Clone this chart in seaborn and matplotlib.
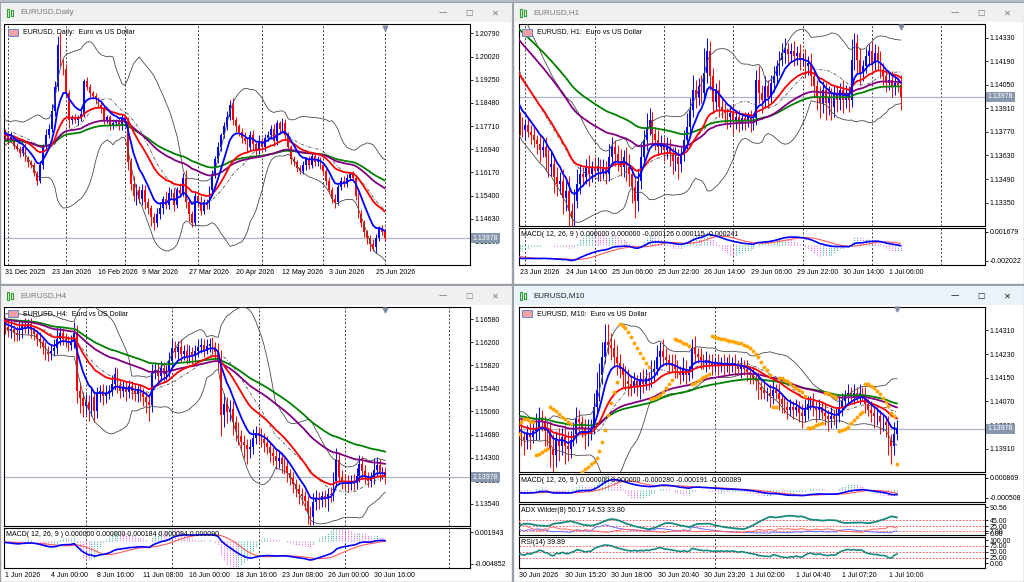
import numpy as np
import pandas as pd
import matplotlib
matplotlib.use("Agg")
import matplotlib.pyplot as plt
from matplotlib.patches import Rectangle
from matplotlib.transforms import blended_transform_factory
import seaborn as sns

# ---------------- data (prices in points, 1e-5 above 1.10000) ----------------
last_price = 1.13978

# Daily: 31 Dec 2025 .. 1 Jul 2026
daily_prev = [7000, 7200, 6900, 7400, 7600, 7300, 7100, 6800, 6600, 6500,
              6700, 6900, 7200, 7500, 7800, 7900, 7700, 7600, 7400, 7300,
              7500, 7600, 7400, 7700, 7600, 7500, 7300, 7400, 7600, 7500]
daily_close = [7400, 7250, 7350, 7050, 6950, 6800, 7000, 6650, 6500, 6400,
               6150, 5900, 6400, 7000, 7400, 7600, 8200, 9000, 10400, 9800,
               9600, 8800, 7900, 8000, 7900, 8000, 8100, 9200, 9000, 8800,
               8700, 8600, 8400, 8300, 7900, 8000, 7700, 7800, 7900, 7700,
               8000, 7800, 6500, 5800, 5400, 5600, 5300, 5600, 5200, 5000,
               4700, 4500, 4800, 5000, 5300, 5100, 5500, 5500, 5100, 5600,
               5500, 6000, 5200, 4800, 4500, 5400, 5200, 4900, 5200, 5100,
               5600, 6100, 6600, 7000, 7400, 7700, 8000, 8400, 7900, 7700,
               7500, 7300, 7200, 7000, 7400, 7100, 6900, 7200, 7000, 7300,
               7400, 7600, 7200, 7800, 7600, 7800, 7400, 7000, 6600, 6500,
               6300, 6200, 6400, 6600, 6400, 6700, 6500, 6600, 6400, 6200,
               5900, 5600, 5300, 5200, 5700, 5900, 5800, 6000, 6100, 6000,
               5400, 4800, 4500, 4200, 4000, 3800, 3700, 4000, 4300, 4200,
               3978]
daily_up = [120, 80, 150, 60, 90, 110, 70, 130, 60, 90,
            100, 80, 150, 120, 200, 180, 250, 220, 300, 400,
            150, 180, 120, 90, 100, 80, 130, 60, 150, 90,
            70, 110, 80, 120, 100, 70, 90, 140, 60, 80,
            110, 90, 200, 150, 250, 180, 120, 200, 160, 130,
            90, 110, 200, 180, 90, 250, 180, 120, 160, 100,
            210, 140, 250, 130, 90, 150, 120, 180, 100, 90,
            110, 150, 120, 180, 90, 130, 200, 160, 250, 120,
            90, 150, 200, 110, 160, 180, 90, 200, 120, 160,
            140, 150, 180, 120, 90, 170, 130, 100, 90, 120,
            80, 110, 150, 90, 120, 100, 80, 130, 90, 100,
            80, 110, 90, 140, 100, 120, 160, 100, 90, 130,
            80, 90, 110, 100, 60, 80, 150, 120, 100, 110,
            90]
daily_dn = [90, 130, 70, 110, 80, 120, 100, 90, 140, 80,
            110, 150, 90, 120, 80, 100, 90, 150, 120, 100,
            200, 160, 250, 120, 90, 150, 110, 100, 80, 130,
            90, 120, 100, 150, 110, 80, 120, 100, 90, 110,
            130, 100, 250, 200, 180, 300, 150, 220, 250, 200,
            300, 250, 150, 180, 200, 160, 130, 150, 200, 120,
            150, 130, 200, 250, 150, 120, 180, 150, 110, 160,
            130, 90, 100, 120, 110, 80, 120, 100, 150, 180,
            120, 150, 100, 160, 120, 180, 140, 110, 150, 120,
            100, 130, 150, 110, 140, 100, 160, 120, 150, 130,
            120, 100, 90, 140, 110, 100, 120, 130, 110, 120,
            150, 130, 160, 200, 120, 100, 130, 110, 90, 120,
            150, 160, 130, 180, 200, 250, 150, 200, 120, 110,
            100]
daily_ticks = [0, 16, 32, 47, 63, 79, 95, 111, 127]
daily_labels = ["31 Dec 2025", "23 Jan 2026", "16 Feb 2026", "9 Mar 2026", "27 Mar 2026",
                "20 Apr 2026", "12 May 2026", "3 Jun 2026", "25 Jun 2026"]
daily_seps = [1, 21, 41, 66, 88, 109, 130]
daily_levels = [1.20790, 1.20020, 1.19250, 1.18480, 1.17710, 1.16940, 1.16170, 1.15400, 1.14630, 1.13860]

# H1: 23 Jun 22:00 .. 1 Jul 10:00
h1_prev = [4600, 4620, 4580, 4610, 4590, 4570, 4600, 4560, 4580, 4550,
           4500, 4460, 4420, 4380, 4340, 4300, 4270, 4240, 4210, 4180,
           4150, 4120, 4090, 4050, 4010, 3980, 3950, 3920, 3880, 3850]
h1_close = [3800, 3780, 3810, 3770, 3750, 3720, 3700, 3660, 3680, 3620,
            3560, 3580, 3500, 3460, 3480, 3380, 3420, 3300, 3260, 3360,
            3460, 3520, 3500, 3560, 3520, 3560, 3540, 3570, 3530, 3550,
            3520, 3620, 3680, 3640, 3600, 3560, 3620, 3560, 3520, 3440,
            3360, 3480, 3620, 3720, 3800, 3840, 3760, 3720, 3680, 3700,
            3660, 3680, 3640, 3600, 3620, 3580, 3640, 3720, 3800, 3900,
            4020, 3980, 4040, 4000, 4120, 4250, 4100, 3950, 4020, 3920,
            3900, 3880, 3860, 3880, 3840, 3860, 3830, 3850, 3840, 3860,
            3830, 3850, 4080, 4000, 3960, 4040, 3980, 4060, 4100, 4160,
            4200, 4240, 4260, 4230, 4250, 4220, 4240, 4200, 4210, 4160,
            4180, 4100, 4040, 3980, 3940, 4020, 3940, 3980, 3920, 4000,
            3960, 4020, 3960, 4000, 3960, 4200, 4300, 4200, 4120, 4160,
            4220, 4250, 4180, 4240, 4200, 4140, 4100, 4060, 4080, 4040,
            4060, 4050, 3978]
h1_up = [40, 60, 30, 50, 40, 60, 30, 50, 40, 60,
         50, 80, 40, 60, 50, 70, 60, 90, 50, 70,
         90, 60, 40, 50, 70, 40, 60, 50, 40, 60,
         50, 80, 60, 40, 50, 70, 40, 60, 80, 50,
         60, 70, 90, 60, 80, 70, 50, 40, 60, 50,
         40, 60, 50, 40, 60, 50, 40, 60, 80, 70,
         90, 60, 50, 70, 150, 80, 60, 50, 40, 60,
         50, 40, 30, 40, 50, 30, 40, 30, 40, 30,
         40, 30, 60, 80, 50, 60, 40, 50, 60, 40,
         50, 60, 70, 40, 50, 60, 40, 50, 30, 50,
         40, 60, 50, 40, 60, 50, 40, 60, 50, 40,
         50, 40, 60, 50, 40, 120, 60, 50, 70, 40,
         50, 40, 60, 50, 40, 50, 40, 30, 40, 50,
         40, 30, 60]
h1_dn = [50, 40, 60, 30, 50, 40, 60, 70, 40, 80,
         60, 50, 90, 70, 60, 100, 80, 90, 60, 50,
         40, 60, 50, 40, 70, 50, 40, 60, 50, 40,
         60, 40, 50, 70, 60, 50, 60, 80, 70, 90,
         100, 60, 50, 40, 60, 50, 70, 60, 50, 40,
         60, 50, 70, 80, 60, 90, 50, 40, 50, 60,
         40, 70, 50, 60, 40, 60, 80, 70, 50, 60,
         50, 60, 70, 60, 80, 50, 60, 50, 60, 40,
         60, 50, 40, 60, 80, 50, 70, 40, 50, 40,
         50, 40, 60, 50, 40, 60, 50, 60, 40, 70,
         50, 60, 70, 80, 90, 60, 100, 70, 80, 60,
         70, 60, 80, 50, 70, 40, 60, 80, 70, 50,
         40, 60, 50, 40, 60, 50, 60, 50, 40, 60,
         50, 40, 80]
h1_ticks = [0, 16, 32, 48, 64, 80, 96, 112, 128]
h1_labels = ["23 Jun 2026", "24 Jun 14:00", "25 Jun 06:00", "25 Jun 22:00", "26 Jun 14:00",
             "29 Jun 06:00", "29 Jun 22:00", "30 Jun 14:00", "1 Jul 06:00"]
h1_seps = [2, 26, 50, 74, 98, 122, 146]
h1_levels = [1.14330, 1.14190, 1.14050, 1.13910, 1.13770, 1.13630, 1.13490, 1.13350]

# H4: 1 Jun 00:00 .. 1 Jul 08:00
h4_prev = [6600, 6650, 6700, 6620, 6580, 6640, 6700, 6680, 6600, 6550,
           6600, 6650, 6620, 6580, 6540, 6600, 6660, 6620, 6560, 6500,
           6540, 6600, 6640, 6580, 6520, 6480, 6540, 6600, 6560, 6520]
h4_close = [6500, 6520, 6450, 6380, 6420, 6360, 6320, 6400, 6480, 6440,
            6500, 6400, 6340, 6260, 6200, 6120, 6040, 6000, 6060, 6100,
            6250, 6360, 6260, 6200, 6160, 6220, 6360, 5400, 5280, 5150,
            5220, 5100, 5300, 5060, 5350, 5400, 5320, 5360, 5400, 5520,
            5680, 5500, 5400, 5460, 5380, 5480, 5400, 5350, 5420, 5360,
            5300, 5220, 5160, 5700, 5750, 5650, 5780, 5680, 5720, 5900,
            6100, 6040, 6120, 6000, 6060, 5960, 6040, 5980, 6060, 6120,
            6160, 6080, 6140, 6180, 6120, 6040, 5880, 5000, 5180, 5050,
            5100, 4880, 4760, 4660, 4560, 4500, 4440, 4480, 4620, 4700,
            4660, 4600, 4540, 4480, 4380, 4320, 4240, 4300, 4200, 4160,
            4040, 3960, 3860, 3780, 3700, 3660, 3580, 3400, 3320, 3560,
            3640, 3600, 3660, 3620, 3700, 3680, 3920, 4260, 3980, 3920,
            3900, 3860, 3920, 3880, 4000, 4200, 4080, 3980, 3920, 3960,
            4100, 4180, 4040, 4060, 3978]
h4_up = [120, 80, 100, 90, 150, 70, 110, 130, 90, 120,
         80, 100, 90, 70, 110, 80, 90, 100, 120, 150,
         200, 100, 80, 90, 110, 100, 180, 120, 150, 100,
         130, 110, 150, 100, 120, 90, 110, 130, 100, 150,
         120, 100, 90, 110, 80, 100, 90, 120, 80, 100,
         90, 80, 100, 150, 130, 110, 120, 90, 100, 140,
         150, 120, 100, 130, 90, 110, 120, 80, 100, 130,
         110, 90, 120, 100, 110, 90, 150, 200, 180, 120,
         150, 130, 100, 120, 90, 110, 100, 130, 150, 120,
         110, 130, 100, 120, 90, 100, 130, 110, 90, 100,
         120, 80, 100, 90, 80, 100, 90, 80, 100, 150,
         120, 100, 90, 110, 100, 120, 150, 200, 130, 110,
         100, 120, 90, 110, 130, 150, 120, 100, 90, 110,
         200, 130, 100, 90, 80]
h4_dn = [100, 150, 120, 90, 110, 130, 100, 80, 120, 90,
         110, 130, 100, 120, 90, 110, 130, 100, 90, 80,
         100, 90, 110, 80, 100, 90, 110, 200, 250, 180,
         150, 200, 120, 180, 110, 130, 150, 120, 100, 90,
         110, 130, 120, 100, 150, 90, 130, 110, 140, 120,
         150, 180, 250, 110, 100, 130, 90, 120, 100, 90,
         110, 100, 130, 120, 90, 110, 100, 130, 90, 100,
         90, 120, 80, 100, 110, 130, 120, 350, 200, 180,
         150, 200, 180, 160, 150, 200, 250, 150, 120, 100,
         110, 130, 150, 120, 160, 140, 120, 110, 150, 130,
         140, 120, 150, 130, 160, 140, 150, 200, 180, 130,
         120, 150, 110, 130, 200, 120, 100, 90, 120, 130,
         110, 130, 100, 120, 90, 110, 130, 120, 110, 100,
         90, 110, 120, 100, 120]
h4_ticks = [2, 18, 34, 50, 66, 82, 98, 114, 130]
h4_labels = ["1 Jun 2026", "4 Jun 00:00", "8 Jun 16:00", "11 Jun 08:00", "16 Jun 00:00",
             "18 Jun 16:00", "23 Jun 08:00", "26 Jun 00:00", "30 Jun 16:00"]
h4_seps = [30, 60, 90, 120, 156]
h4_levels = [1.16580, 1.16200, 1.15820, 1.15440, 1.15060, 1.14680, 1.14300, 1.13920, 1.13540]

# M10: 30 Jun 12:40 .. 1 Jul 10:30
m10_prev = [4050, 4060, 4040, 4030, 4050, 4070, 4060, 4040, 4020, 4030,
            4010, 4000, 4020, 4040, 4030, 4010, 3990, 3980, 4000, 4010,
            3990, 3970, 3960, 3980, 4000, 3990, 3970, 3960, 3980, 3970]
m10_close = [3970, 3950, 3940, 3960, 3950, 3970, 3980, 4010, 4000, 3970,
             3960, 3910, 3890, 3940, 3920, 3950, 3920, 3910, 3940, 3960,
             4010, 4000, 3980, 3960, 3970, 3980, 4050, 4110, 4160, 4220,
             4270, 4260, 4250, 4220, 4200, 4180, 4160, 4140, 4130, 4120,
             4140, 4120, 4140, 4130, 4150, 4140, 4170, 4180, 4220, 4240,
             4220, 4210, 4200, 4190, 4180, 4170, 4160, 4180, 4160, 4170,
             4250, 4230, 4220, 4210, 4200, 4210, 4200, 4190, 4200, 4190,
             4200, 4190, 4200, 4190, 4200, 4190, 4180, 4190, 4180, 4170,
             4160, 4150, 4140, 4120, 4110, 4100, 4100, 4090, 4110, 4100,
             4080, 4060, 4050, 4040, 4050, 4040, 4050, 4030, 4020, 4040,
             4060, 4070, 4050, 4040, 4050, 4030, 4020, 4010, 4020, 4010,
             4020, 4050, 4070, 4090, 4100, 4090, 4100, 4090, 4100, 4090,
             4060, 4040, 4030, 4020, 4020, 4000, 4000, 3990, 3940, 3920,
             3960, 3978]
m10_up = [30, 40, 20, 30, 40, 30, 50, 40, 30, 20,
          30, 40, 50, 30, 40, 30, 40, 50, 30, 40,
          40, 30, 20, 30, 40, 30, 50, 60, 40, 50,
          60, 60, 40, 30, 40, 30, 20, 30, 40, 30,
          30, 20, 30, 40, 30, 20, 40, 30, 40, 30,
          40, 30, 20, 30, 40, 30, 20, 40, 30, 20,
          30, 40, 20, 30, 20, 30, 20, 30, 20, 30,
          20, 30, 20, 30, 20, 30, 20, 30, 20, 30,
          20, 30, 20, 30, 20, 30, 20, 30, 40, 20,
          30, 20, 30, 20, 30, 20, 30, 20, 30, 40,
          30, 20, 30, 20, 30, 20, 30, 20, 30, 20,
          30, 40, 30, 20, 30, 20, 30, 20, 30, 20,
          30, 20, 30, 20, 30, 20, 30, 20, 30, 20,
          40, 30]
m10_dn = [40, 30, 50, 30, 40, 20, 30, 40, 30, 50,
          40, 60, 80, 40, 50, 30, 60, 40, 30, 20,
          30, 40, 30, 50, 40, 30, 20, 30, 40, 30,
          20, 30, 40, 30, 40, 30, 40, 30, 40, 30,
          20, 30, 40, 30, 20, 30, 20, 30, 20, 30,
          30, 20, 30, 20, 30, 20, 30, 20, 30, 20,
          20, 30, 20, 30, 20, 30, 20, 30, 20, 30,
          20, 30, 20, 30, 20, 30, 20, 30, 20, 30,
          30, 20, 30, 40, 30, 20, 30, 40, 30, 20,
          40, 30, 20, 30, 20, 30, 20, 30, 40, 20,
          30, 20, 30, 40, 30, 20, 30, 40, 30, 20,
          30, 20, 30, 20, 30, 20, 30, 20, 30, 20,
          30, 20, 30, 40, 30, 40, 30, 40, 50, 60,
          30, 20]
m10_ticks = [0, 16, 32, 48, 64, 80, 96, 112, 128]
m10_labels = ["30 Jun 2026", "30 Jun 15:20", "30 Jun 18:00", "30 Jun 20:40", "30 Jun 23:20",
              "1 Jul 02:00", "1 Jul 04:40", "1 Jul 07:20", "1 Jul 10:00"]
m10_seps = [68]
m10_levels = [1.14310, 1.14230, 1.14150, 1.14070, 1.13990, 1.13910]

# ---------------- indicators ----------------
def build(prev, close, up, dn):
    c = np.array(prev + close, dtype=float) / 1e5 + 1.1
    o = np.r_[c[0], c[:-1]]
    npv = len(prev)
    h = np.maximum(o, c)
    l = np.minimum(o, c)
    h[npv:] += np.array(up) / 1e5
    l[npv:] -= np.array(dn) / 1e5
    x = np.arange(-npv, len(close))
    return x, o, h, l, c, npv


def ema(c, n):
    return pd.Series(c).ewm(span=n, adjust=False).mean().values


def bands(c, n=20, k=2):
    s = pd.Series(c)
    mid = s.rolling(n, min_periods=1).mean()
    sd = s.rolling(n, min_periods=1).std(ddof=0)
    return mid.values, (mid + k * sd).values, (mid - k * sd).values


def macd(c):
    m = ema(c, 12) - ema(c, 26)
    sig = pd.Series(m).rolling(9, min_periods=1).mean().values
    return m, sig


def rsi(c, n=14):
    d = np.diff(c, prepend=c[0])
    g = pd.Series(np.clip(d, 0, None)).ewm(alpha=1 / n, adjust=False).mean()
    ls = pd.Series(np.clip(-d, 0, None)).ewm(alpha=1 / n, adjust=False).mean()
    return (100 - 100 / (1 + g / ls.replace(0, np.nan))).fillna(50).values


def adx(h, l, c, n=8):
    pc = np.r_[c[0], c[:-1]]
    tr = np.maximum(h - l, np.maximum(abs(h - pc), abs(l - pc)))
    up = np.r_[0, np.diff(h)]
    dn = np.r_[0, -np.diff(l)]
    pdm = np.where((up > dn) & (up > 0), up, 0.0)
    mdm = np.where((dn > up) & (dn > 0), dn, 0.0)
    sm = lambda a: pd.Series(a).ewm(alpha=1 / n, adjust=False).mean().values
    atr = np.maximum(sm(tr), 1e-9)
    pdi = 100 * sm(pdm) / atr
    mdi = 100 * sm(mdm) / atr
    dx = 100 * abs(pdi - mdi) / np.maximum(pdi + mdi, 1e-9)
    return sm(dx), pdi, mdi


def psar(h, l, step=0.02, mx=0.2):
    out = np.full(len(h), np.nan)
    bull, af, ep, sar = True, step, h[0], l[0]
    for i in range(1, len(h)):
        sar = sar + af * (ep - sar)
        if bull:
            sar = min(sar, l[i - 1], l[max(i - 2, 0)])
            if l[i] < sar:
                bull, sar, ep, af = False, ep, l[i], step
            elif h[i] > ep:
                ep, af = h[i], min(af + step, mx)
        else:
            sar = max(sar, h[i - 1], h[max(i - 2, 0)])
            if h[i] > sar:
                bull, sar, ep, af = True, ep, h[i], step
            elif l[i] < ep:
                ep, af = l[i], min(af + step, mx)
        out[i] = sar
    return out


# ---------------- figure ----------------
sns.set_style("white")
plt.rcParams["font.family"] = ["Liberation Sans", "DejaVu Sans"]

W, H = 1024, 582
fig = plt.figure(figsize=(W / 100, H / 100), dpi=100, facecolor="#b9bec6")
bg = fig.add_axes([0, 0, 1, 1])
bg.set_xlim(0, W)
bg.set_ylim(H, 0)
bg.axis("off")


def pax(x0, y0, x1, y1):
    return fig.add_axes([x0 / W, 1 - y1 / H, (x1 - x0) / W, (y1 - y0) / H])


def ftext(ax, x, y, s, **kw):
    return ax.text(x / W, 1 - y / H, s, transform=fig.transFigure, **kw)


def window(x0, y0, x1, y1, title, active):
    bg.add_patch(Rectangle((x0, y0), x1 - x0, y1 - y0, fc="white", ec="#9aa0a8", lw=1))
    bg.add_patch(Rectangle((x0 + 1, y0 + 1), x1 - x0 - 2, 19,
                           fc="#eaf2fc" if active else "#f0f0f0", lw=0))
    tc = "#202020" if active else "#7a7a7a"
    for dx, hh in ((0, 8), (4, 6)):
        bg.add_patch(Rectangle((x0 + 7 + dx, y0 + 7 + (8 - hh) / 2), 2.4, hh,
                               fc="none", ec="#2ca02c", lw=0.8))
    bg.text(x0 + 20, y0 + 10.5, title, fontsize=5.8, color=tc, va="center")
    for dx, s in ((-69, "—"), (-43, "☐"), (-17, "✕")):
        bg.text(x1 + dx, y0 + 11, s, fontsize=6, color=tc, ha="center", va="center",
                family=["DejaVu Sans"])


def style(ax, xlim, ylim):
    ax.set_xlim(*xlim)
    ax.set_ylim(*ylim)
    ax.set_facecolor("white")
    for sp in ax.spines.values():
        sp.set_color("black")
        sp.set_linewidth(0.8)
    ax.yaxis.tick_right()
    ax.tick_params(axis="both", direction="out", length=2, width=0.6, pad=1.2,
                   labelsize=5, colors="black", labelright=True, labelleft=False)
    ax.set_xticks([])
    ax.set(xlabel="", ylabel="")


def seps_on(ax, seps):
    for s in seps:
        ax.axvline(s, color="#3a3a3a", lw=0.7, ls=(0, (2, 2)), zorder=1)


def x_labels(ax, ticks, labels):
    ax.set_xticks(ticks)
    ax.set_xticklabels(labels)
    for t in ax.get_xticklabels():
        t.set_ha("left")


def price_panel(ax, data, xlim, ylim, levels, seps, info, info_xy, sar=False):
    x, o, h, l, c, npv = data
    xi = x[npv:]
    oo, hh, ll, cc = o[npv:], h[npv:], l[npv:], c[npv:]
    col = np.where(cc >= oo, "#0000ff", "#ff0000")
    seps_on(ax, seps)
    ax.axhline(last_price, color="#aab5c5", lw=0.9, zorder=1)
    min_h = (ylim[1] - ylim[0]) / 260
    ax.vlines(xi, ll, hh, colors=col, lw=0.7, zorder=2)
    ax.bar(xi, np.maximum(abs(cc - oo), min_h), bottom=np.minimum(oo, cc),
           width=0.62, color=col, lw=0, zorder=2)
    mid, up, lo = bands(c)
    for yv in (up, lo):
        sns.lineplot(x=x, y=yv, ax=ax, color="#4a4a4a", linewidth=0.6, errorbar=None, zorder=3)
    sns.lineplot(x=x, y=mid, ax=ax, color="#555555", linewidth=0.6, errorbar=None,
                 linestyle=(0, (4, 2, 1, 2)), zorder=3)
    for n, colr in ((70, "#008000"), (50, "#800080"), (21, "#ff0000"), (8, "#0000ff")):
        sns.lineplot(x=x, y=ema(c, n), ax=ax, color=colr, linewidth=1.3, errorbar=None, zorder=4)
    if sar:
        sns.scatterplot(x=x, y=psar(h, l), ax=ax, color="#ffa500", s=8, linewidth=0, zorder=5)
    style(ax, xlim, ylim)
    ax.set_yticks(levels)
    ax.set_yticklabels([f"{v:.5f}" for v in levels])
    tr = blended_transform_factory(ax.transAxes, ax.transData)
    ax.text(1.006, last_price, f"{last_price:.5f}", transform=tr, fontsize=5, color="white",
            va="center", ha="left", zorder=10, clip_on=False,
            bbox=dict(boxstyle="square,pad=0.2", fc="#8797ad", ec="none"))
    trx = blended_transform_factory(ax.transData, ax.transAxes)
    ax.plot([xi[-1]], [0.985], transform=trx, marker="v", ms=3.5, color="#7f8fa8",
            clip_on=False, zorder=10)
    ix, iy = info_xy
    ax.add_patch(Rectangle(((ix - 15) / W, 1 - (iy + 3.5) / H), 10 / W, 7 / H,
                           transform=fig.transFigure, fc="#f3a0a0", ec="#4a80d0", lw=0.6, zorder=9))
    ftext(ax, ix, iy, info, fontsize=5, color="black", va="center", zorder=9)


def macd_panel(ax, data, xlim, ylim, hi, lo, seps, label, lxy):
    x, o, h, l, c, npv = data
    m, sg = macd(c)
    hist = m - sg
    hcol = np.where(np.diff(hist, prepend=hist[0]) >= 0, "#48b4a2", "#e36ee3")
    seps_on(ax, seps)
    ax.vlines(x, 0, hist * 3, colors=hcol, lw=0.8, linestyles=(0, (1, 1)), zorder=2)
    sns.lineplot(x=x, y=sg, ax=ax, color="#ff5a5a", linewidth=0.8, errorbar=None, zorder=3)
    sns.lineplot(x=x, y=m, ax=ax, color="#0000ff", linewidth=1.2, errorbar=None, zorder=4)
    style(ax, xlim, ylim)
    ax.set_yticks([hi, lo])
    ax.set_yticklabels([f"{hi:.6f}", f"{lo:.6f}"])
    ftext(ax, lxy[0], lxy[1], label, fontsize=5, color="black", va="center", zorder=9)


def level_panel(ax, x, lines, levels, xlim, ylim, ticks, tlabels, seps, label, lxy):
    seps_on(ax, seps)
    for lv in levels:
        ax.axhline(lv, color="#ff4040", lw=0.6, ls=(0, (2, 2)), zorder=1)
    for yv, colr, lw in lines:
        sns.lineplot(x=x, y=yv, ax=ax, color=colr, linewidth=lw, errorbar=None, zorder=3)
    style(ax, xlim, ylim)
    ax.set_yticks(ticks)
    ax.set_yticklabels(tlabels)
    ftext(ax, lxy[0], lxy[1], label, fontsize=5, color="black", va="center", zorder=9)


# ---------------- windows ----------------
window(0, 2, 512, 284, "EURUSD,Daily", False)
window(513, 2, 1024, 284, "EURUSD,H1", False)
window(0, 285, 512, 582, "EURUSD,H4", False)
window(513, 285, 1024, 582, "EURUSD,M10", True)

# Daily
d = build(daily_prev, daily_close, daily_up, daily_dn)
ax = pax(4, 24, 470, 265)
price_panel(ax, d, (-0.34, 159.2), (1.13093, 1.2110), daily_levels, daily_seps,
            "EURUSD, Daily:  Euro vs US Dollar", (23, 32))
x_labels(ax, daily_ticks, daily_labels)

# H1
d = build(h1_prev, h1_close, h1_up, h1_dn)
xl = (-0.2, 161.2)
ax = pax(519, 24, 985, 226)
price_panel(ax, d, xl, (1.13211, 1.14411), h1_levels, h1_seps,
            "EURUSD, H1:  Euro vs US Dollar", (537, 32))
ax = pax(519, 228, 985, 265)
macd_panel(ax, d, xl, (-0.002571, 0.002151), 0.001679, -0.002022, h1_seps,
           "MACD( 12, 26, 9 ) 0.000000 0.000000 -0.000126 0.000115 -0.000241", (521, 234.5))
x_labels(ax, h1_ticks, h1_labels)

# H4
d = build(h4_prev, h4_close, h4_up, h4_dn)
xl = (1.63, 163.4)
ax = pax(4, 307, 470, 526)
price_panel(ax, d, xl, (1.13172, 1.16783), h4_levels, h4_seps,
            "EURUSD, H4:  Euro vs US Dollar", (23, 314))
ax = pax(4, 528, 470, 568)
macd_panel(ax, d, xl, (-0.005774, 0.002801), 0.001943, -0.004852, h4_seps,
           "MACD( 12, 26, 9 ) 0.000000 0.000000 0.000184 0.000094 0.000090", (6, 534))
x_labels(ax, h4_ticks, h4_labels)

# M10
d = build(m10_prev, m10_close, m10_up, m10_dn)
x, o, h, l, c, npv = d
xl = (0.17, 161.4)
ax = pax(519, 307, 985, 472)
price_panel(ax, d, xl, (1.13832, 1.14389), m10_levels, m10_seps,
            "EURUSD, M10:  Euro vs US Dollar", (537, 314), sar=True)
ax = pax(519, 474, 985, 502)
macd_panel(ax, d, xl, (-0.000804, 0.001124), 0.000869, -0.000508, m10_seps,
           "MACD( 12, 26, 9 ) 0.000000 0.000000 -0.000280 -0.000191 -0.000089", (521, 480))
adx_v, pdi, mdi = adx(h, l, c)
ax = pax(519, 503.5, 985, 535)
level_panel(ax, x, [(pdi, "#6a6aff", 0.7), (mdi, "#ff6060", 0.7), (adx_v, "#168a7e", 1.3)],
            [45, 25, 7], xl, (-6, 104), [0, 7, 25, 45, 90.56],
            ["0.00", "7.00", "25.00", "45.00", "90.56"], m10_seps,
            "ADX Wilder(8) 50.17 14.53 33.80", (521, 510))
ax = pax(519, 537, 985, 568)
level_panel(ax, x, [(rsi(c), "#168a7e", 1.2)], [75, 50, 25], xl, (-20, 113),
            [0, 25, 50, 75, 100], ["0.00", "25.00", "50.00", "75.00", "100.00"], m10_seps,
            "RSI(14) 39.89", (521, 543))
x_labels(ax, m10_ticks, m10_labels)

fig.savefig("out.png", dpi=100, facecolor=fig.get_facecolor())
